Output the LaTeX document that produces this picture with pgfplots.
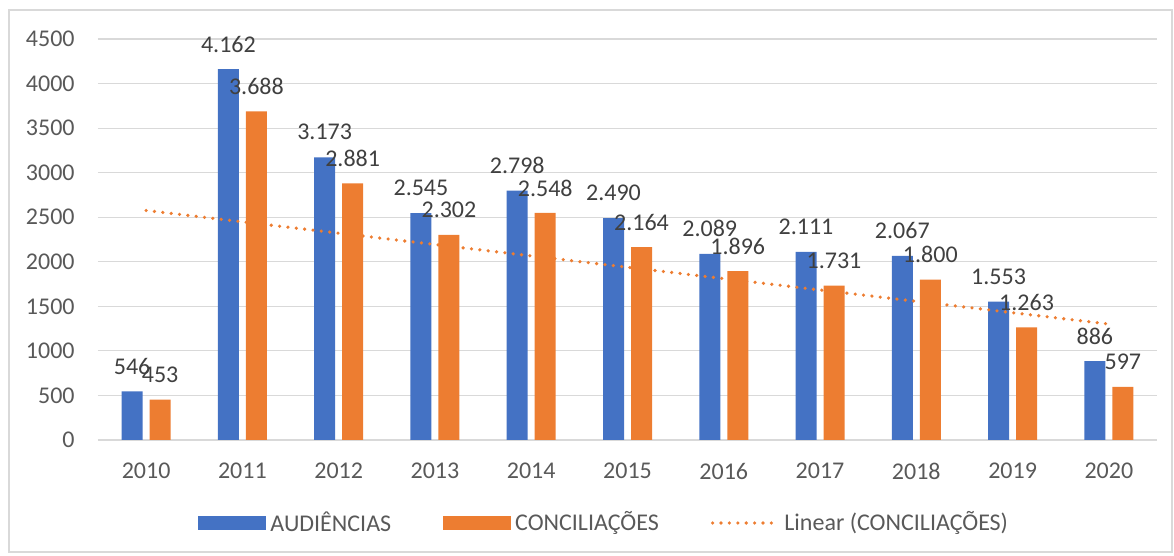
\documentclass[border=0pt]{standalone}
\usepackage{pgfplots}
\pgfplotsset{compat=1.18}
\usepackage{fontspec}
\setmainfont{Carlito}
\definecolor{azul}{HTML}{4472C4}
\definecolor{laranja}{HTML}{ED7D31}
\definecolor{grade}{HTML}{D9D9D9}
\definecolor{eixo}{HTML}{595959}
\definecolor{rotulo}{HTML}{404040}

\begin{document}
\fontsize{12pt}{14pt}\selectfont
\begin{tikzpicture}
\begin{axis}[
  name=ax,
  width=529.5pt, height=200.5pt, scale only axis,
  xmin=-0.5, xmax=10.5, ymin=0, ymax=4500,
  ytick={0,500,...,4500},
  xtick={0,...,10},
  xticklabels={2010,2011,2012,2013,2014,2015,2016,2017,2018,2019,2020},
  axis line style={draw=none},
  major tick length=0pt,
  ymajorgrids, grid style={grade, line width=0.6pt},
  tick label style={font=\fontsize{12pt}{14pt}\selectfont, text=eixo},
  /pgf/number format/assume math mode=true,
  /pgf/number format/1000 sep={},
  yticklabel style={anchor=east, inner sep=0pt, xshift=-11.5pt},
  xticklabel style={anchor=center, inner sep=0pt, yshift=-15.5pt},
  nodes near coords={\pgfmathprintnumber[assume math mode=true,fixed,precision=0,1000 sep={.}]{\pgfplotspointmeta}},
  every node near coord/.append style={anchor=center, yshift=12.5pt, text=rotulo, font=\fontsize{12pt}{14pt}\selectfont},
  legend columns=3,
  legend style={draw=none, fill=none, at={(0.479,-0.207)}, anchor=center,
    font=\fontsize{12pt}{14pt}\selectfont, text=eixo,
    /tikz/every even column/.append style={column sep=24pt}},
]
\addplot[ybar, bar width=10.5pt, bar shift=-7pt, fill=azul, draw=none,
  every node near coord/.append style={xshift=-7pt},
  legend image code/.code={\fill[azul] (0pt,-3.5pt) rectangle (34pt,3.5pt);}]
  coordinates {(0,546) (1,4162) (2,3173) (3,2545) (4,2798) (5,2490) (6,2089) (7,2111) (8,2067) (9,1553) (10,886)};
\addlegendentry{AUDIÊNCIAS}
\addplot[ybar, bar width=10.5pt, bar shift=7pt, fill=laranja, draw=none,
  every node near coord/.append style={xshift=7pt},
  legend image code/.code={\fill[laranja] (0pt,-3.5pt) rectangle (34pt,3.5pt);}]
  coordinates {(0,453) (1,3688) (2,2881) (3,2302) (4,2548) (5,2164) (6,1896) (7,1731) (8,1800) (9,1263) (10,597)};
\addlegendentry{CONCILIAÇÕES}
\addplot[laranja, line width=1.8pt, line cap=round, dash pattern=on 0pt off 4.2pt, nodes near coords={},
  legend image code/.code={\draw[laranja, line width=1.8pt, line cap=round, dash pattern=on 0pt off 4.2pt] (1pt,0pt) -- (34pt,0pt);}]
  coordinates {(0,2576) (10,1301)};
\addlegendentry{Linear (CONCILIAÇÕES)}
\end{axis}
\draw[grade, line width=0.6pt] ([xshift=-44.5pt,yshift=-56pt]ax.south west) rectangle ([xshift=7.5pt,yshift=14.5pt]ax.north east);
\path ([xshift=-49pt,yshift=-58pt]ax.south west) rectangle ([xshift=8.5pt,yshift=19.5pt]ax.north east);
\end{tikzpicture}
\end{document}
